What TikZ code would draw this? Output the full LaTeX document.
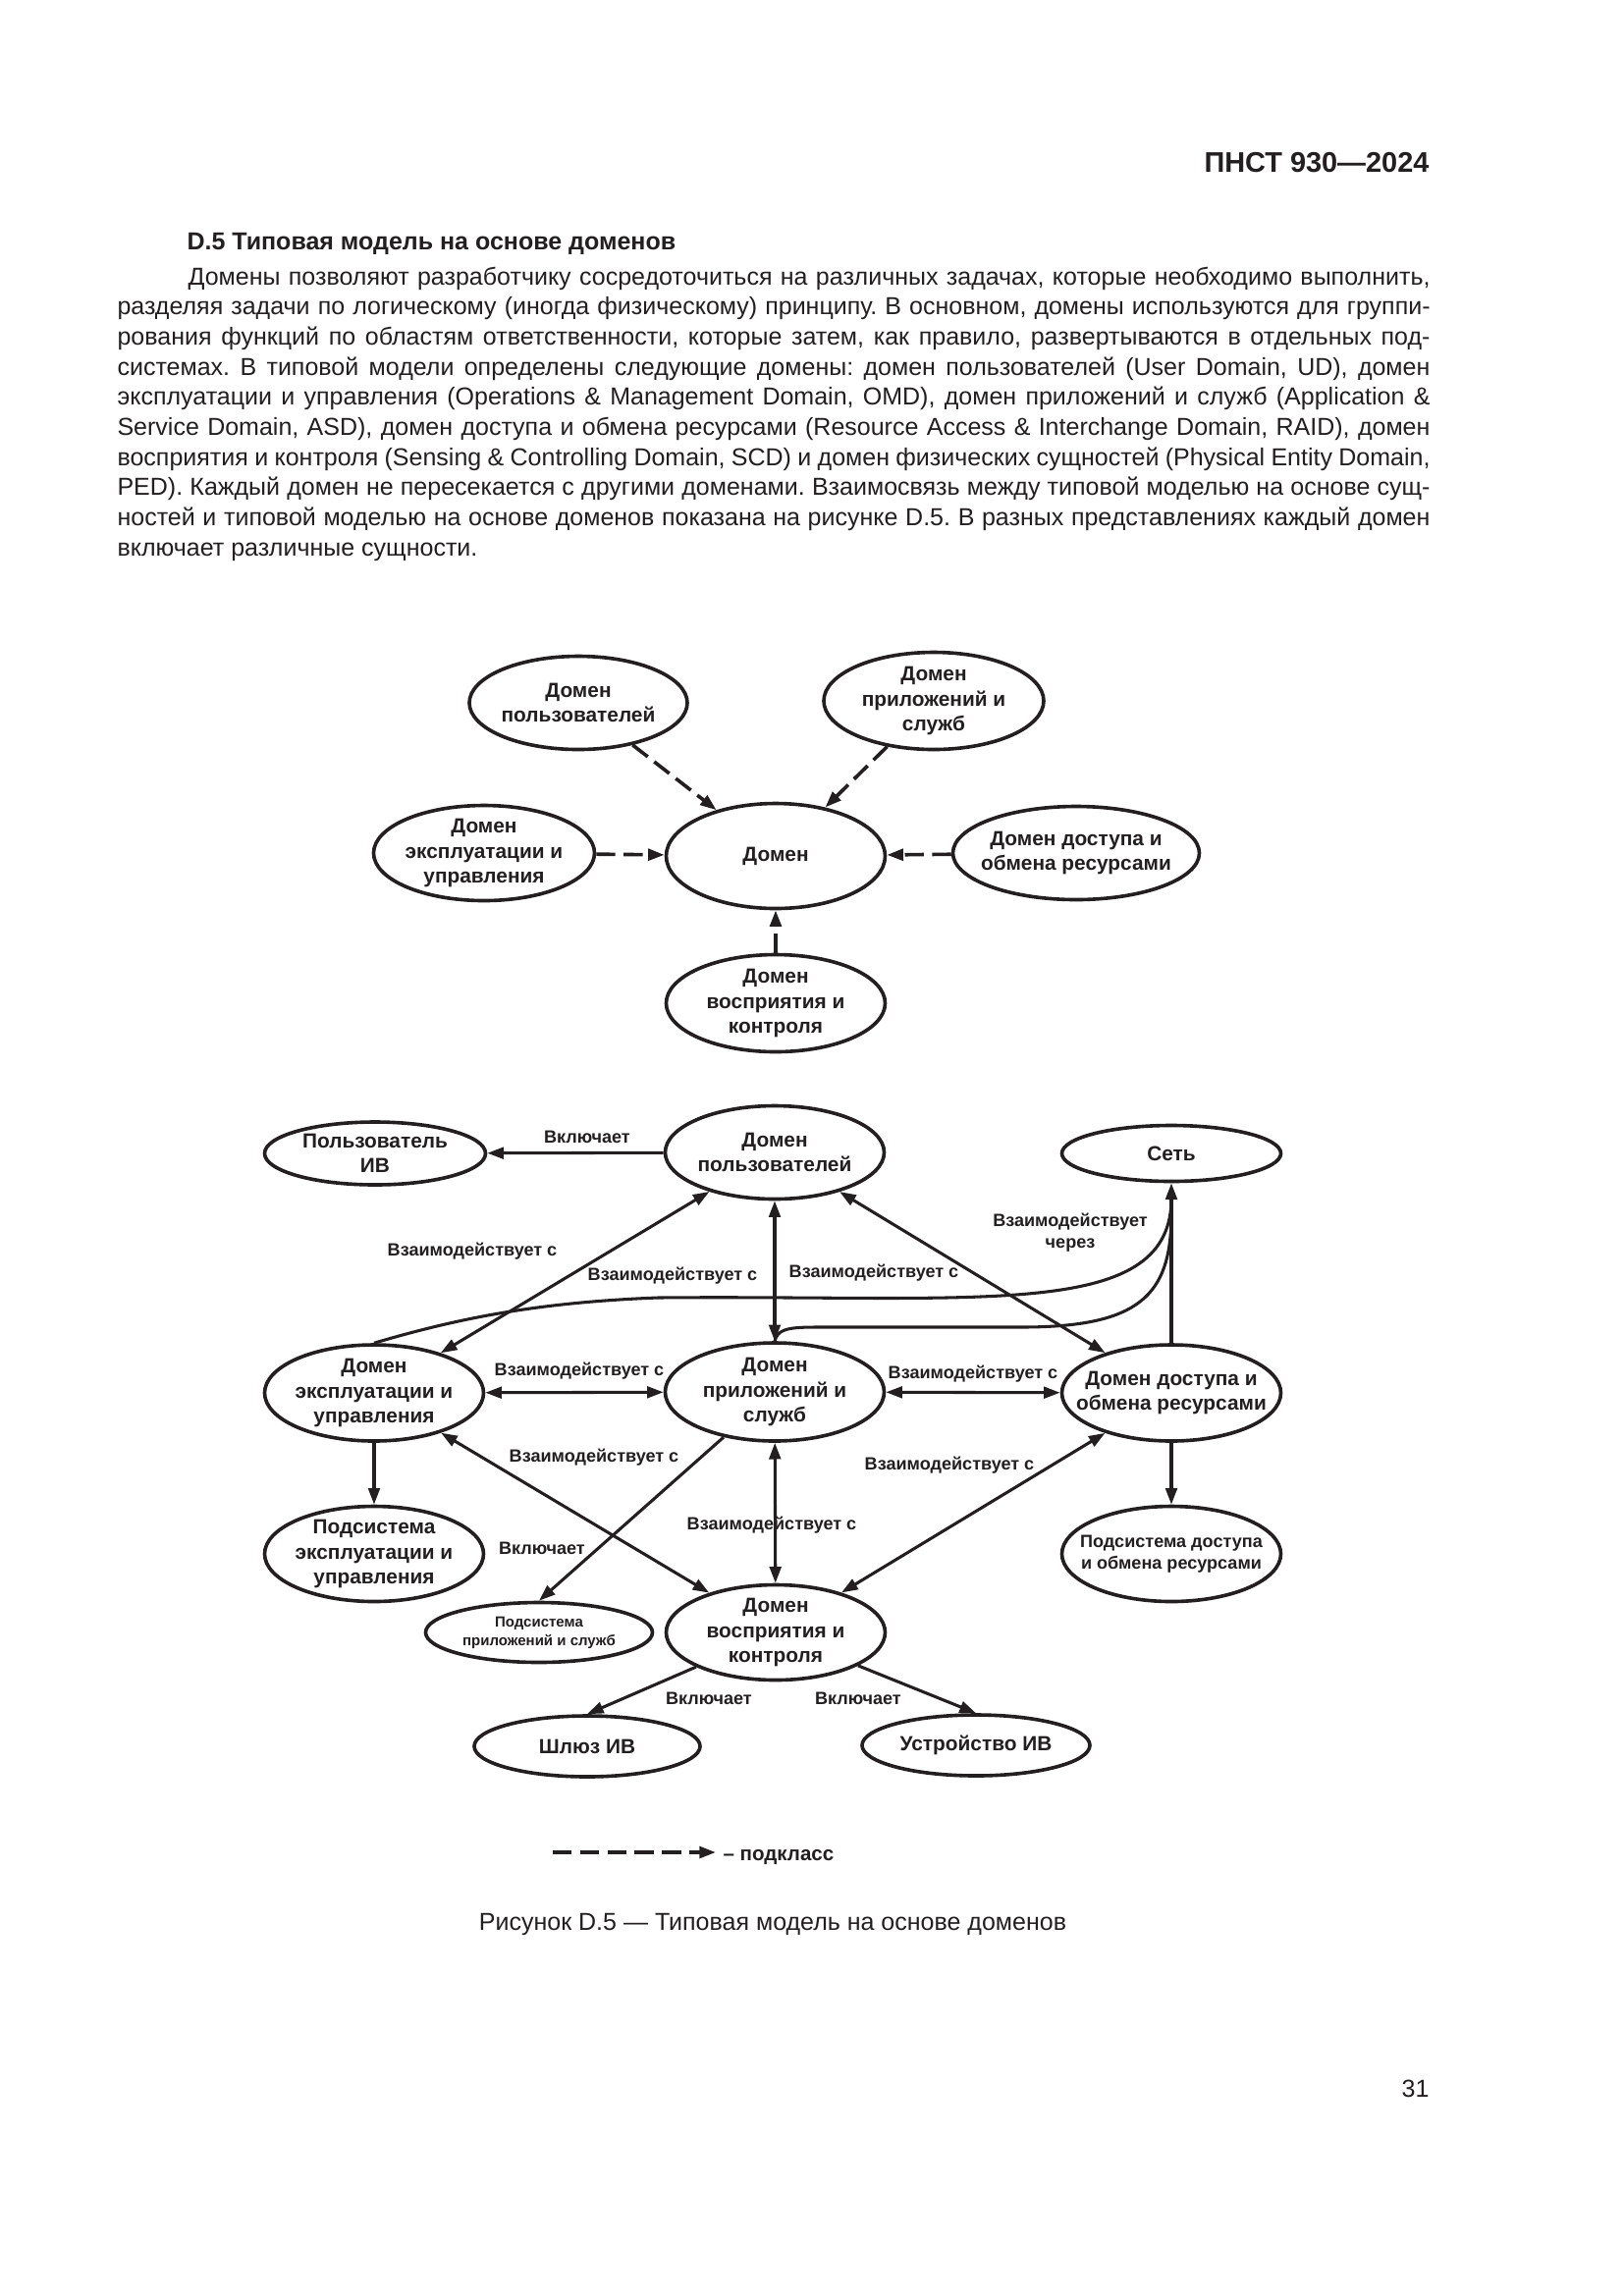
\documentclass[tikz,border=0pt]{standalone}
\usepackage{fontspec}
\setmainfont{Liberation Sans}
\usetikzlibrary{shapes.geometric,arrows.meta}
\definecolor{ink}{RGB}{35,31,32}
\newlength\pxu \setlength\pxu{0.35986pt}
\frenchspacing
\newcommand\nodefont{\fontsize{7.5}{9.2}\selectfont\bfseries}
\newcommand\lblfont{\fontsize{6.5}{7.9}\selectfont\bfseries}
\newcommand\bodyfont{\fontsize{9}{11.05}\selectfont}
\newcommand\jl[1]{\hbox to 1337\pxu{#1}}
\tikzset{
  dom/.style={ellipse, draw=ink, line width=1.3pt, inner sep=0pt},
  ntext/.style={font=\nodefont, align=center, text=ink, inner sep=0pt},
  lbl/.style={font=\lblfont, align=center, text=ink, inner sep=0pt},
  edge/.style={line width=1.1pt, draw=ink},
  tip/.tip={Triangle[length=6pt,width=4.2pt]},
  one/.style={edge, -tip},
  two/.style={edge, tip-tip},
  subarr/.style={edge, line width=1.3pt, dash pattern=on 7pt off 3pt, -tip},
}
\begin{document}
\begin{tikzpicture}[x=0.35986pt, y=-0.35986pt]
\fill[white] (0,0) rectangle (1654,2339);
\useasboundingbox (0,0) rectangle (1654,2339);

% header and text
\node[anchor=base east, inner sep=0, font=\fontsize{10.4}{12}\selectfont\bfseries, text=ink] (hdr) at (1456,175) {ПНСТ 930—2024};
\node[anchor=base west, inner sep=0, font=\bodyfont\bfseries, text=ink] (ttl) at (190,254) {D.5 Типовая модель на основе доменов};
\node[anchor=base west, inner sep=0, font=\bodyfont, text=ink] (body) at (119,290) {\vtop{\hsize=1337\pxu \baselineskip=11.05pt \frenchspacing
\jl{\hskip 72\pxu Домены позволяют разработчику сосредоточиться на различных задачах, которые необходимо выполнить,}
\jl{разделяя задачи по логическому (иногда физическому) принципу. В основном, домены используются для группи-}
\jl{рования функций по областям ответственности, которые затем, как правило, развертываются в отдельных под-}
\jl{системах. В типовой модели определены следующие домены: домен пользователей (User Domain, UD), домен}
\jl{эксплуатации и управления (Operations \& Management Domain, OMD), домен приложений и служб (Application \&}
\jl{Service Domain, ASD), домен доступа и обмена ресурсами (Resource Access \& Interchange Domain, RAID), домен}
\jl{восприятия и контроля (Sensing \& Controlling Domain, SCD) и домен физических сущностей (Physical Entity Domain,}
\jl{PED). Каждый домен не пересекается с другими доменами. Взаимосвязь между типовой моделью на основе сущ-}
\jl{ностей и типовой моделью на основе доменов показана на рисунке D.5. В разных представлениях каждый домен}
\hbox{включает различные сущности.}}};

% ---------- top diagram ----------
\node[dom, minimum width=222\pxu, minimum height=95\pxu, label={[ntext]center:{Домен\\пользователей}}] (tUD) at (589,716) {};
\node[dom, minimum width=224\pxu, minimum height=99\pxu, label={[ntext]center:{Домен\\приложений и\\служб}}] (tASD) at (951,714) {};
\node[dom, minimum width=225\pxu, minimum height=97\pxu, label={[ntext]center:{Домен\\эксплуатации и\\управления}}] (tOMD) at (493,869) {};
\node[dom, minimum width=223\pxu, minimum height=107\pxu, label={[ntext]center:{Домен}}] (tDom) at (790,872) {};
\node[dom, minimum width=251\pxu, minimum height=95\pxu, label={[ntext]center:{Домен доступа и\\обмена ресурсами}}] (tRAID) at (1096,869) {};
\node[dom, minimum width=223\pxu, minimum height=99\pxu, label={[ntext]center:{Домен\\восприятия и\\контроля}}] (tSCD) at (790,1022) {};

\draw[subarr] (tUD) -- (tDom);
\draw[subarr] (tASD) -- (tDom);
\draw[subarr] (tOMD) -- (tDom);
\draw[subarr] (tRAID) -- (tDom);
\draw[subarr] (tSCD) -- (tDom);

% ---------- bottom diagram ----------
\node[dom, minimum width=225\pxu, minimum height=64\pxu, label={[ntext]center:{Пользователь\\ИВ}}] (bUI) at (382,1175) {};
\node[dom, minimum width=223\pxu, minimum height=95\pxu, label={[ntext]center:{Домен\\пользователей}}] (bUD) at (789,1174) {};
\node[dom, minimum width=223\pxu, minimum height=57\pxu, label={[ntext]center:{Сеть}}] (bNET) at (1193,1175) {};
\node[dom, minimum width=223\pxu, minimum height=98\pxu, label={[ntext]center:{Домен\\эксплуатации и\\управления}}] (bOMD) at (381,1419) {};
\node[dom, minimum width=223\pxu, minimum height=100\pxu, label={[ntext]center:{Домен\\приложений и\\служб}}] (bASD) at (789,1418) {};
\node[dom, minimum width=223\pxu, minimum height=98\pxu, label={[ntext]center:{Домен доступа и\\обмена ресурсами}}] (bRAID) at (1193,1419) {};
\node[dom, minimum width=223\pxu, minimum height=97\pxu, label={[ntext]center:{Подсистема\\эксплуатации и\\управления}}] (bSOMD) at (381,1583) {};
\node[dom, minimum width=231\pxu, minimum height=61\pxu, label={[ntext, font=\fontsize{5.4}{6.8}\selectfont\bfseries]center:{Подсистема\\приложений и служб}}] (bSASD) at (549,1663) {};
\node[dom, minimum width=223\pxu, minimum height=97\pxu, label={[ntext]center:{Домен\\восприятия и\\контроля}}] (bSCD) at (790,1663) {};
\node[dom, minimum width=223\pxu, minimum height=97\pxu, label={[ntext, font=\fontsize{6.5}{7.8}\selectfont\bfseries]center:{Подсистема доступа\\и обмена ресурсами}}] (bSRAID) at (1193,1583) {};
\node[dom, minimum width=230\pxu, minimum height=62\pxu, label={[ntext]center:{Шлюз ИВ}}] (bGW) at (598,1779) {};
\node[dom, minimum width=232\pxu, minimum height=62\pxu, label={[ntext]center:{Устройство ИВ}}] (bDEV) at (994,1778) {};

\draw[one] (bUD) -- (bUI);
\draw[two] (bOMD) -- (bUD);
\draw[two] (bUD) -- (bASD);
\draw[two] (bUD) -- (bRAID);
\draw[two] (bOMD) -- (bASD);
\draw[two] (bASD) -- (bRAID);
\draw[one] (bOMD) -- (bSOMD);
\draw[one] (bRAID) -- (bSRAID);
\draw[one] (bRAID) -- (bNET);
\draw[one] (bASD) -- (bSASD.north);
\draw[two] (bOMD) -- (bSCD);
\draw[two] (bASD) -- (bSCD);
\draw[two] (bRAID) -- (bSCD);
\draw[one] (bSCD) -- (bGW.north);
\draw[one] (bSCD) -- (bDEV.north);

\coordinate (j1) at (1193,1225);
\coordinate (j2) at (1193,1240);
\draw[edge] (bOMD.north) .. controls (460,1345) and (540,1327) .. (670,1322)
  .. controls (1000,1319) and (1188,1345) .. (j1);
\draw[edge] (bASD.north) .. controls (792,1355) and (800,1352) .. (830,1352) -- (1040,1352)
  .. controls (1160,1352) and (1192,1320) .. (j2);

% labels
\node[lbl] (l1) at (598,1158) {Включает};
\node[lbl] (l2) at (481,1275) {Взаимодействует с};
\node[lbl] (l3) at (685,1300) {Взаимодействует с};
\node[lbl] (l4) at (890,1297) {Взаимодействует с};
\node[lbl] (l5) at (1090,1256) {Взаимодействует\\через};
\node[lbl] (l6) at (590,1397) {Взаимодействует с};
\node[lbl] (l7) at (991,1400) {Взаимодействует с};
\node[lbl] (l8) at (605,1485) {Взаимодействует с};
\node[lbl] (l9) at (552,1577) {Включает};
\node[lbl] (l10) at (786,1554) {Взаимодействует с};
\node[lbl] (l11) at (967,1493) {Взаимодействует с};
\node[lbl] (l12) at (722,1730) {Включает};
\node[lbl] (l13) at (874,1730) {Включает};

% legend
\coordinate (lgA) at (563,1887);
\coordinate (lgB) at (729,1887);
\node[anchor=base west, inner sep=0, font=\fontsize{7.4}{8}\selectfont\bfseries, text=ink] (lg) at (736,1895) {– подкласс};
\draw[subarr] (lgA) -- (lgB);

% caption and page number
\node[anchor=base, inner sep=0, font=\bodyfont, text=ink] (cap) at (787,1966) {Рисунок D.5 — Типовая модель на основе доменов};
\node[anchor=base east, inner sep=0, font=\bodyfont, text=ink] (pg) at (1456,2136) {31};
\end{tikzpicture}
\end{document}
